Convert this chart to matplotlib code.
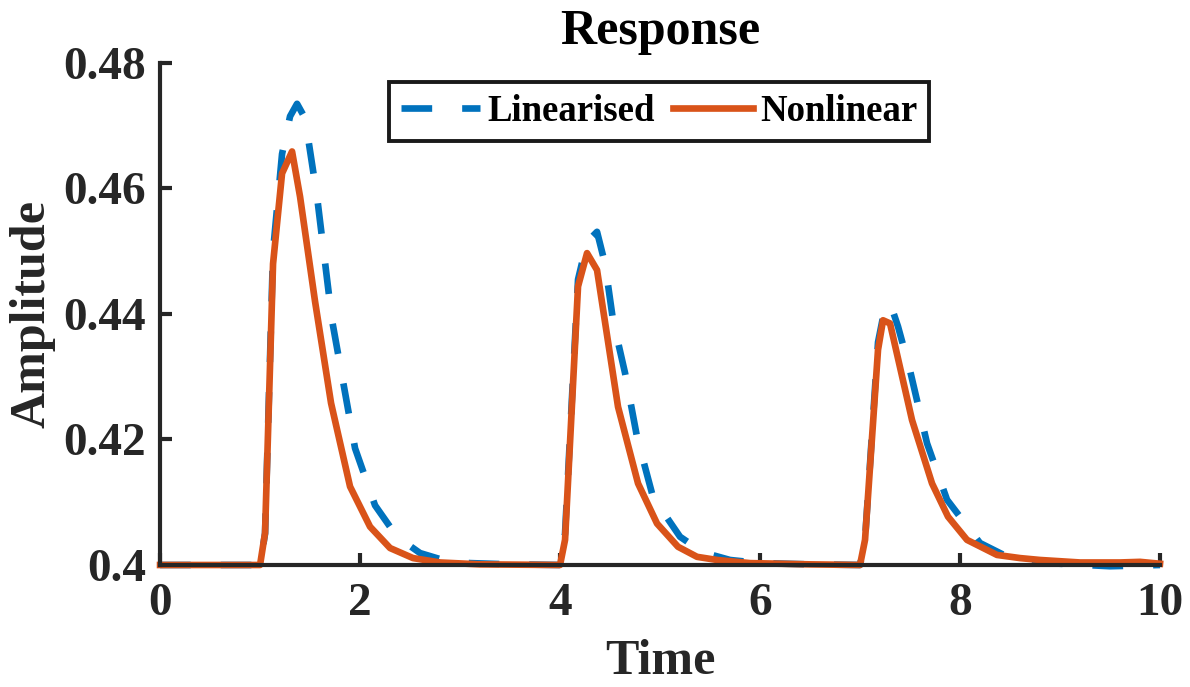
import matplotlib.pyplot as plt

plt.rcParams['font.family'] = ['Liberation Serif', 'DejaVu Serif']
plt.rcParams['font.weight'] = 'bold'

# linearised response
t_lin = [0, 1.0, 1.05, 1.13, 1.22, 1.3, 1.37, 1.45, 1.57, 1.72, 1.95, 2.15, 2.37, 2.6, 2.85, 3.1, 3.5,
         4.0, 4.05, 4.18, 4.27, 4.37, 4.45, 4.53, 4.65, 4.77, 4.93, 5.2, 5.43, 5.7, 6.0, 6.5,
         7.0, 7.05, 7.18, 7.23, 7.30, 7.38, 7.5, 7.67, 7.87, 8.2, 8.45, 8.7, 9.0, 9.5, 10.0]
y_lin = [0.4, 0.4, 0.405, 0.450, 0.4655, 0.4715, 0.4735, 0.4712, 0.4587, 0.439, 0.4186, 0.4095, 0.4045, 0.4019, 0.4007, 0.4003, 0.4001,
         0.4, 0.405, 0.4455, 0.4515, 0.4531, 0.448, 0.439, 0.4306, 0.4204, 0.4108, 0.4045, 0.402, 0.4008, 0.4003, 0.4001,
         0.4, 0.404, 0.4355, 0.4395, 0.4418, 0.438, 0.431, 0.4194, 0.4104, 0.4035, 0.4015, 0.4006, 0.4002, 0.3998, 0.4]

# nonlinear response
t_nl = [0, 1.0, 1.05, 1.13, 1.22, 1.32, 1.40, 1.55, 1.71, 1.9, 2.1, 2.3, 2.53, 2.8, 3.2,
        4.0, 4.05, 4.18, 4.27, 4.37, 4.58, 4.78, 4.97, 5.18, 5.37, 5.57, 5.9, 6.5,
        7.0, 7.05, 7.18, 7.23, 7.30, 7.52, 7.72, 7.88, 8.07, 8.37, 8.6, 8.8, 9.2, 9.6, 9.8, 10.0]
y_nl = [0.4, 0.4, 0.4051, 0.448, 0.4624, 0.4659, 0.4587, 0.442, 0.4258, 0.4125, 0.4061, 0.4027, 0.4011, 0.4004, 0.4001,
        0.4, 0.404, 0.4444, 0.4497, 0.447, 0.4252, 0.413, 0.4066, 0.4029, 0.4013, 0.4008, 0.4003, 0.4001,
        0.4, 0.404, 0.4343, 0.439, 0.4385, 0.4231, 0.413, 0.4077, 0.404, 0.4016, 0.4011, 0.4008, 0.4004, 0.4004, 0.4005, 0.4002]

xticks = [0, 2, 4, 6, 8, 10]
yticks = [0.4, 0.42, 0.44, 0.46, 0.48]
ytick_labels = ['0.4', '0.42', '0.44', '0.46', '0.48']

fig = plt.figure(figsize=(11.9, 6.87), dpi=100)
ax = fig.add_axes([0.1345, 0.1776, 0.8403, 0.7307])

ax.plot(t_lin, y_lin, color='#0072BD', lw=4.8, dashes=(4.6, 4.5), label='Linearised', clip_on=False)
ax.plot(t_nl, y_nl, color='#D95319', lw=4.8, label='Nonlinear', clip_on=False)

ax.set_xlim(0, 10)
ax.set_ylim(0.4, 0.48)
ax.set_xticks(xticks)
ax.set_yticks(yticks)
ax.set_yticklabels(ytick_labels)

for s in ['top', 'right']:
    ax.spines[s].set_visible(False)
for s in ['left', 'bottom']:
    ax.spines[s].set_linewidth(3)
    ax.spines[s].set_color('#262626')
ax.tick_params(direction='in', length=8.5, width=3, color='#262626', labelcolor='#262626', labelsize=34)
ax.tick_params(axis='y', pad=10)
ax.tick_params(axis='x', pad=13)

ax.set_title('Response', fontsize=36, fontweight='bold', pad=14)
ax.set_xlabel('Time', fontsize=36, fontweight='bold', labelpad=10)
ax.set_ylabel('Amplitude', fontsize=36, fontweight='bold', labelpad=5.5, color='#262626')
ax.xaxis.label.set_color('#262626')

leg = ax.legend(loc='upper center', bbox_to_anchor=(0.499, 0.962), ncol=2, fontsize=26.5,
                frameon=True, fancybox=False, framealpha=1, edgecolor='#1a1a1a', handlelength=2.17,
                columnspacing=0.5, handletextpad=0.19, borderpad=0.32, borderaxespad=0)
leg.get_frame().set_linewidth(2.8)

fig.savefig('out.png', dpi=100)
